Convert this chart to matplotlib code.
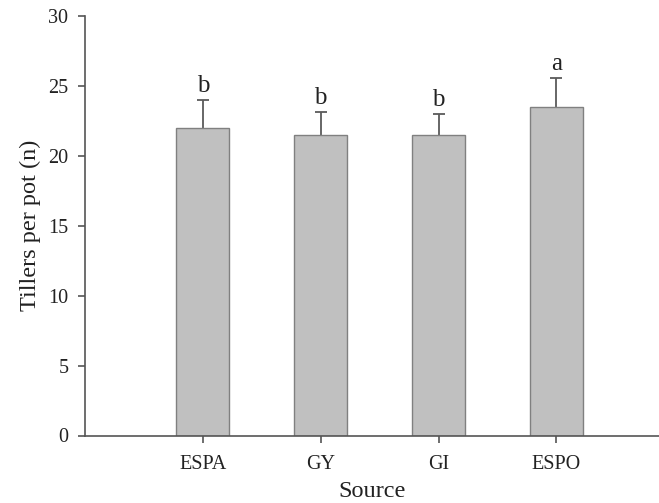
import matplotlib
matplotlib.use("Agg")
import matplotlib.pyplot as plt

categories = ["ESPA", "GY", "GI", "ESPO"]
means = [22.0, 21.5, 21.5, 23.5]
errors = [2.0, 1.6, 1.5, 2.05]
letters = ["b", "b", "b", "a"]

plt.rcParams['font.family'] = ['Liberation Serif', 'DejaVu Serif']

fig = plt.figure(figsize=(6.59, 5.03), dpi=100)
ax = fig.add_axes([85/659, 1 - 435.5/503, 1 - 85/659, (435.5 - 15.7)/503])

pos = [1, 2, 3, 4]
edge = "#808080"
ax.bar(pos, means, width=0.45, color="#c0c0c0", edgecolor=edge, linewidth=1.0, zorder=2)
eb = ax.errorbar(pos, means, yerr=[[0]*4, errors], fmt="none", ecolor="#5a5a5a",
                 elinewidth=1.3, capsize=4.5, capthick=1.3, zorder=1)
# hide the lower (zero-length) caps
eb[1][0].set_visible(False)
for x, m, e, l in zip(pos, means, errors, letters):
    ax.text(x, m + e + 0.2, l, ha="center", va="bottom", fontsize=18, color="#222222")

ax.set_xlim(0, 4.87)
ax.set_ylim(0, 30)
ax.set_yticks([0, 5, 10, 15, 20, 25, 30])
ax.set_xticks(pos)
ax.set_xticklabels(categories)
for s in ["top", "right"]:
    ax.spines[s].set_visible(False)
for s in ["left", "bottom"]:
    ax.spines[s].set_color("#555555")
    ax.spines[s].set_linewidth(1.2)
ax.tick_params(axis="both", colors="#555555", labelcolor="#222222", labelsize=14.5,
               length=5, width=1.2, direction="out")
ax.tick_params(axis="x", pad=9)
ax.tick_params(axis="y", pad=7)
ax.set_ylabel("Tillers per pot (n)", fontsize=17.5, color="#222222", labelpad=5)
ax.set_xlabel("Source", fontsize=17.5, color="#222222", labelpad=5)

fig.savefig("out.png", dpi=100)
